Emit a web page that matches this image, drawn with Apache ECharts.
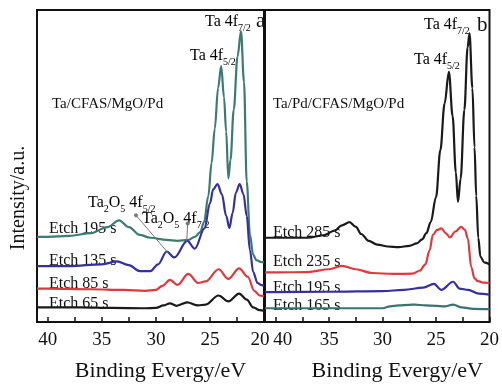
<!DOCTYPE html>
<html>
<head>
<meta charset="utf-8">
<script src="https://cdn.jsdelivr.net/npm/echarts@6/dist/echarts.min.js"></script>
<style>
html, body { margin: 0; padding: 0; background: #fff; }
#chart { width: 502px; height: 387px; }
</style>
</head>
<body>
<div id="chart"></div>
<script>
// binding energy (eV) / intensity (a.u., 0-100 panel height) pairs
const a65 = [[41,4.7],[40,4.7],[37,4.7],[34,4.5],[31,4.4],[30,4.5],[29.3,5.3],[28.7,6.0],[28.1,5.2],[27.1,6.3],[26.1,5.3],[25.4,5.6],[24.2,8.5],[23.3,6.6],[22.3,9.1],[21.6,7.2],[21.0,4.7],[20.4,3.8],[20,3.6]];
const a85 = [[41,10.7],[40,10.7],[36,10.5],[33,10.3],[31,10.0],[30,10.3],[29.4,11.6],[28.7,13.5],[28.0,11.9],[27.0,15.4],[26.1,12.5],[25.4,13.0],[24.2,16.9],[23.3,13.8],[22.3,17.2],[21.5,14.5],[20.9,10.0],[20.4,8.5],[20,8.2]];
const a135 = [[41,17.9],[40,17.9],[38,17.9],[35,18.5],[33.6,19.4],[32.5,18.2],[31.5,16.3],[30.5,16.3],[29.8,18.5],[29.0,22.6],[28.3,20.7],[27.1,26.0],[26.4,23.5],[25.5,30],[25.0,38],[24.7,42.5],[24.3,44.2],[23.9,41],[23.5,34],[23.2,30.1],[22.9,35],[22.6,41.5],[22.25,44.2],[21.9,41],[21.6,34],[21.3,23],[21.0,16],[20.6,12.5],[20.2,11.8],[20,11.6]];
const a195 = [[41,27.3],[40,27.3],[38,27.6],[36,28.5],[34.5,30.4],[33.4,32.6],[32.5,30.4],[31.5,27.9],[30.5,27.0],[29,26.3],[28,26.0],[27,26.3],[26.4,27.3],[25.9,28.8],[25.55,32],[25.15,40.4],[24.85,51],[24.55,62],[24.25,75],[23.96,82],[23.7,72],[23.5,61],[23.3,46],[23.1,52],[22.8,68],[22.45,85],[22.13,93.2],[21.85,77],[21.6,45],[21.3,28],[21.0,21.5],[20.7,19.8],[20.3,19.3],[20,19.1]];

const b165 = [[41,4.4],[40,4.4],[35,4.4],[30,4.4],[29.3,5.0],[28.5,5.3],[27.5,5.5],[27,5.6],[26,5.3],[25,5.2],[24.2,5.0],[23.4,5.6],[22.6,4.7],[21.5,4.2],[20,4.1]];
const b195 = [[41,9.6],[40,9.6],[35,9.7],[30,9.9],[28,10.3],[26.2,11.0],[25.2,12.2],[24.5,10.3],[23.4,12.9],[22.8,10.7],[22,10.3],[21,9.1],[20,8.8]];
const b235 = [[41,15.9],[40,15.9],[37,16.0],[35,16.9],[33.8,18.0],[32.5,16.9],[31,15.7],[29,15.4],[27.2,15.5],[26.5,16.5],[26.0,18.5],[25.6,23],[25.3,27.9],[24.9,29.5],[24.5,30.0],[24.1,28.5],[23.7,27.1],[23.2,29],[22.65,30.5],[22.3,29.5],[22.03,26.8],[21.71,17.6],[21.4,14],[21.09,13.1],[20.5,12.6],[20,12.5]];
const b285 = [[41,27.0],[40,27.0],[37,27.0],[35.5,27.8],[34.5,29.3],[33.8,31.0],[33.1,32.0],[32.5,30.5],[32,28.2],[31.3,26.0],[30.5,24.8],[29.5,24.2],[28.5,24.0],[27.5,24.4],[26.8,25.2],[26.3,26.5],[25.9,28.5],[25.5,32],[25.0,40],[24.6,55],[24.2,70],[23.8,80.2],[23.45,66],[23.15,48],[22.95,38.5],[22.7,46],[22.35,68],[22.05,88],[21.87,92.5],[21.6,75],[21.4,56],[21.24,40.4],[21.05,27],[20.85,21],[20.5,19.1],[20,18.5]];

// Ta2O5 pointer lines (start with dot, end at peak)
const arrowsA = [[[31.84, 34.2], [28.91, 22.3]], [[27.06, 31.6], [27.15, 25.8]]];

const namesA = ['Etch 195 s', 'Etch 135 s', 'Etch 85 s', 'Etch 65 s'];
const namesB = ['Etch 285 s', 'Etch 235 s', 'Etch 195 s', 'Etch 165 s'];
const xName = 'Binding Evergy/eV';
const yName = 'Intensity/a.u.';

const serif = 'Liberation Serif, Times New Roman, serif';
const ink = '#111';
const teal = '#3d7a72';
const blue = '#35309a';
const red = '#e0383c';
const black = '#1a1a1a';

let chart = echarts.init(document.getElementById('chart'));

function xAxisFor(idx, namePad, edgeTag) {
    return {
        gridIndex: idx,
        type: 'value',
        min: 20,
        max: 41,
        interval: 2.5,
        inverse: true,
        name: xName,
        nameLocation: 'middle',
        nameGap: 38,
        nameTextStyle: { fontFamily: serif, fontSize: 22, color: ink, padding: [0, 0, 0, namePad] },
        axisLine: { show: true, onZero: false, lineStyle: { color: ink, width: 2 } },
        axisTick: { show: true, inside: true, length: 5, lineStyle: { color: ink, width: 1.5 } },
        axisLabel: {
            fontFamily: serif, fontSize: 19, color: ink, margin: 9,
            formatter: function (v) {
                if (v % 5 !== 0) return '';
                if (edgeTag === 'l' && v === 20) return '{l|20}';
                if (edgeTag === 'r' && v === 40) return '{r|40}';
                return String(v);
            },
            rich: {
                l: { fontFamily: serif, fontSize: 19, color: ink, padding: [0, 8, 0, 0] },
                r: { fontFamily: serif, fontSize: 19, color: ink, padding: [0, 0, 0, 14] }
            }
        },
        splitLine: { show: false }
    };
}

function yAxisFor(idx, withName) {
    return {
        gridIndex: idx,
        type: 'value',
        min: 0,
        max: 100,
        name: withName ? yName : '',
        nameLocation: 'middle',
        nameGap: 8,
        nameTextStyle: { fontFamily: serif, fontSize: 20, color: ink, padding: [0, 64, 0, 0] },
        axisLine: { show: false },
        axisTick: { show: false },
        axisLabel: { show: false },
        splitLine: { show: false }
    };
}

function line(name, data, color, idx) {
    return {
        name: name,
        type: 'line',
        xAxisIndex: idx,
        yAxisIndex: idx,
        data: data,
        showSymbol: false,
        smooth: 0.35,
        smoothMonotone: 'x',
        lineStyle: { color: color, width: 2.2 },
        itemStyle: { color: color },
        silent: true
    };
}

// text helpers
const rich = {
    n: { fontFamily: serif, fontSize: 16, color: ink, lineHeight: 22 },
    s: { fontFamily: serif, fontSize: 10, color: ink, lineHeight: 10, verticalAlign: 'bottom' }
};
function txt(x, y, text, size) {
    return {
        type: 'text', x: x, y: y,
        style: { text: text, fill: ink, fontFamily: serif, fontSize: size || 16, verticalAlign: 'middle', align: 'left' }
    };
}
function richTxt(x, y, text) {
    return {
        type: 'text', x: x, y: y,
        style: { text: text, rich: rich, verticalAlign: 'middle', align: 'left' }
    };
}

let seriesA = [
    line(namesA[0], a195, teal, 0),
    line(namesA[1], a135, blue, 0),
    line(namesA[2], a85, red, 0),
    line(namesA[3], a65, black, 0)
];
seriesA[0].markLine = {
    silent: true,
    symbol: ['circle', 'none'],
    symbolSize: 4,
    label: { show: false },
    lineStyle: { color: '#777', width: 1, type: 'solid' },
    data: arrowsA.map(function (a) { return [{ coord: a[0] }, { coord: a[1] }]; })
};

let option = {
    backgroundColor: '#fff',
    animation: false,
    grid: [
        { left: 37, right: 238, top: 10, bottom: 58, show: true, borderColor: ink, borderWidth: 2, backgroundColor: 'transparent' },
        { left: 265, right: 12, top: 10, bottom: 58, show: true, borderColor: ink, borderWidth: 2, backgroundColor: 'transparent' }
    ],
    xAxis: [xAxisFor(0, 20, 'l'), xAxisFor(1, 40, 'r')],
    yAxis: [yAxisFor(0, true), yAxisFor(1, false)],
    series: seriesA.concat([
        line(namesB[0], b285, black, 1),
        line(namesB[1], b235, red, 1),
        line(namesB[2], b195, blue, 1),
        line(namesB[3], b165, '#3b7370', 1)
    ]),
    graphic: [
        richTxt(205, 22, '{n|Ta 4f}{s|7/2}'),
        txt(256, 21, 'a', 21),
        richTxt(190, 56, '{n|Ta 4f}{s|5/2}'),
        txt(52, 104, 'Ta/CFAS/MgO/Pd', 15),
        richTxt(88, 203, '{n|Ta}{s|2}{n|O}{s|5}{n| 4f}{s|5/2}'),
        richTxt(142, 219, '{n|Ta}{s|2}{n|O}{s|5}{n| 4f}{s|7/2}'),
        txt(49, 229, namesA[0]),
        txt(49, 261, namesA[1]),
        txt(49, 284, namesA[2]),
        txt(49, 304, namesA[3]),
        richTxt(424, 25, '{n|Ta 4f}{s|7/2}'),
        txt(477, 25, 'b', 21),
        richTxt(414, 60, '{n|Ta 4f}{s|5/2}'),
        txt(273, 104, 'Ta/Pd/CFAS/MgO/Pd', 15),
        txt(273, 233, namesB[0]),
        txt(273, 262, namesB[1]),
        txt(273, 288, namesB[2]),
        txt(273, 306, namesB[3])
    ]
};

chart.setOption(option);
</script>
</body>
</html>
